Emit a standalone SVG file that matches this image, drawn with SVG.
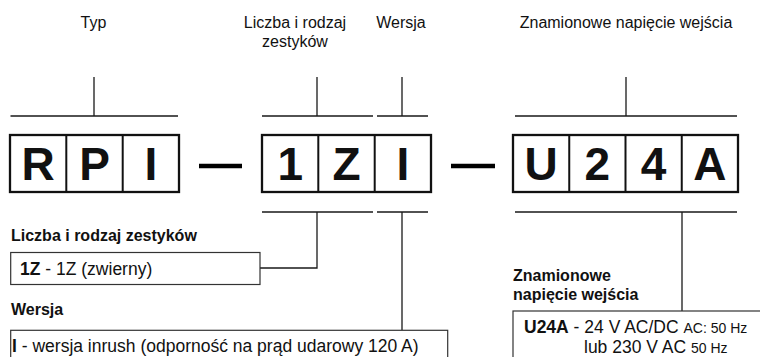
<svg xmlns="http://www.w3.org/2000/svg" width="760" height="357" viewBox="0 0 760 357">
<style>
text{font-family:"Liberation Sans",Arial,sans-serif;fill:#111}
.lbl{font-size:16px;text-anchor:middle}
.code{font-size:46px;font-weight:bold;text-anchor:middle}
.cell{fill:#fff;stroke:#111;stroke-width:2.3}
.div{stroke:#111;stroke-width:2}
.con{stroke:#1a1a1a;stroke-width:1.3;fill:none}
.dash{stroke:#000;stroke-width:4.5}
.head{font-size:16px;font-weight:bold}
.body{font-size:17.5px}
.small{font-size:14px}
.desc{fill:#fff;stroke:#333;stroke-width:1.2}
</style>
<g id="label-typ"><text class="lbl" x="93.5" y="28">Typ</text></g>
<g id="label-liczba"><text class="lbl" x="295" y="27.5">Liczba i rodzaj</text><text class="lbl" x="295" y="46.5">zestyków</text></g>
<g id="label-wersja"><text class="lbl" x="401" y="27.5">Wersja</text></g>
<g id="label-napiecie"><text class="lbl" x="626" y="27.5">Znamionowe napięcie wejścia</text></g>
<g id="code-rpi">
<rect class="cell" x="10" y="135" width="169" height="57"/>
<line class="div" x1="66.3" y1="135" x2="66.3" y2="192"/>
<line class="div" x1="122.7" y1="135" x2="122.7" y2="192"/>
<text class="code" x="38.2" y="180">R</text><text class="code" x="94.5" y="180">P</text><text class="code" x="150.8" y="180">I</text>
</g>
<g id="dash-1"><line class="dash" x1="199" y1="166" x2="242" y2="166"/></g>
<g id="code-1zi">
<rect class="cell" x="262" y="135" width="169" height="57"/>
<line class="div" x1="318.3" y1="135" x2="318.3" y2="192"/>
<line class="div" x1="374.7" y1="135" x2="374.7" y2="192"/>
<text class="code" x="290.2" y="180">1</text><text class="code" x="346.5" y="180">Z</text><text class="code" x="402.8" y="180">I</text>
</g>
<g id="dash-2"><line class="dash" x1="451" y1="166" x2="495" y2="166"/></g>
<g id="code-u24a">
<rect class="cell" x="513" y="135" width="225" height="57"/>
<line class="div" x1="569.25" y1="135" x2="569.25" y2="192"/>
<line class="div" x1="625.5" y1="135" x2="625.5" y2="192"/>
<line class="div" x1="681.75" y1="135" x2="681.75" y2="192"/>
<text class="code" x="541.1" y="180">U</text><text class="code" x="597.4" y="180">2</text><text class="code" x="653.6" y="180">4</text><text class="code" x="709.9" y="180">A</text>
</g>
<g id="connectors">
<path class="con" d="M10.5 116H178M94 77V116"/>
<path class="con" d="M262 116H373M317 77V116"/>
<path class="con" d="M377 116H428M402 77V116"/>
<path class="con" d="M515 116H737M626 77V116"/>
<path class="con" d="M262 212H373M317 212V268H260"/>
<path class="con" d="M377 212H428M402 212V330"/>
<path class="con" d="M515 212H737M682 212V311"/>
</g>
<g id="desc-liczba">
<text class="head" x="11" y="241">Liczba i rodzaj zestyków</text>
<rect class="desc" x="10.7" y="252.5" width="249.3" height="32"/>
<text class="body" x="20" y="275"><tspan font-weight="bold">1Z</tspan> - 1Z (zwierny)</text>
</g>
<g id="desc-wersja">
<text class="head" x="11" y="315">Wersja</text>
<rect class="desc" x="10.7" y="330.3" width="437" height="40"/>
<text class="body" x="12" y="352"><tspan font-weight="bold">I</tspan> - wersja inrush (odporność na prąd udarowy 120 A)</text>
</g>
<g id="desc-napiecie">
<text class="head" x="513" y="281">Znamionowe</text>
<text class="head" x="513" y="300">napięcie wejścia</text>
<rect class="desc" x="513" y="311" width="260" height="60"/>
<text class="body" x="524" y="333"><tspan font-weight="bold">U24A</tspan> - 24 V AC/DC <tspan class="small">AC: 50 Hz</tspan></text>
<text class="body" x="584" y="353">lub 230 V AC <tspan class="small">50 Hz</tspan></text>
</g>
</svg>
